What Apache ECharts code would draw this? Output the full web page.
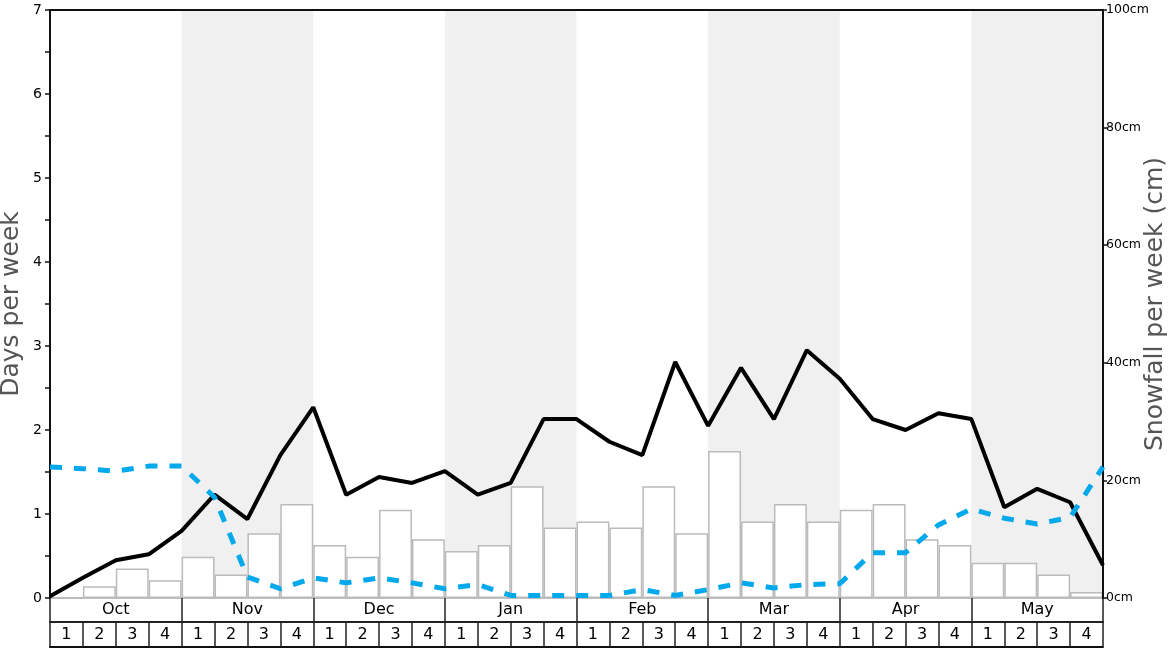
<!DOCTYPE html>
<html>
<head>
<meta charset="utf-8">
<title>Snow weeks</title>
<script src="https://cdn.jsdelivr.net/npm/echarts@6/dist/echarts.min.js"></script>
<style>
  html, body { margin: 0; padding: 0; background: #fff; }
  #chart { width: 1168px; height: 648px; }
</style>
</head>
<body>
<div id="chart"></div>
<script>
// months along the bottom, 4 weeks each
var months = ['Oct', 'Nov', 'Dec', 'Jan', 'Feb', 'Mar', 'Apr', 'May'];
var weeks = ['1','2','3','4', '1','2','3','4', '1','2','3','4', '1','2','3','4',
             '1','2','3','4', '1','2','3','4', '1','2','3','4', '1','2','3','4'];

// snowfall per week (cm), one bar per week
var snowfall = [0, 2, 5, 3,  7, 4, 11, 16,  9, 7, 15, 10,  8, 9, 19, 12,
                13, 12, 19, 11,  25, 13, 16, 13,  15, 16, 10, 9,  6, 6, 4, 1];

// days per week, read at each week boundary (33 points)
var snowDays = [0.02, 0.24, 0.45, 0.52, 0.80, 1.23, 0.94, 1.70, 2.27,
                1.23, 1.44, 1.37, 1.51, 1.23, 1.37, 2.13, 2.13,
                1.86, 1.70, 2.81, 2.05, 2.74, 2.13, 2.95, 2.61,
                2.13, 2.00, 2.20, 2.13, 1.08, 1.30, 1.14, 0.39];
var otherDays = [1.56, 1.54, 1.51, 1.57, 1.57, 1.20, 0.25, 0.11, 0.24,
                 0.18, 0.24, 0.18, 0.11, 0.16, 0.03, 0.03, 0.03,
                 0.03, 0.10, 0.03, 0.10, 0.18, 0.12, 0.16, 0.17,
                 0.54, 0.54, 0.87, 1.06, 0.95, 0.88, 0.96, 1.56];

var edges = [];
for (var i = 0; i < snowDays.length; i++) {
  edges.push(i);
}

var font = 'DejaVu Sans';

var option = {
  animation: false,
  textStyle: { fontFamily: font },
  grid: { left: 50, right: 65, top: 10, bottom: 50, containLabel: false, outerBoundsMode: 'none' },
  xAxis: [
    {
      // month row + shaded month bands
      type: 'category',
      data: months,
      position: 'bottom',
      boundaryGap: true,
      axisLine: { onZero: false, lineStyle: { color: '#aaa', width: 1.5 } },
      axisTick: { show: true, length: 24, lineStyle: { color: '#222', width: 1.5 } },
      axisLabel: { fontSize: 16, color: '#000', margin: 4 },
      splitLine: { show: false },
      splitArea: { show: true, areaStyle: { color: ['rgba(255,255,255,0)', '#f0f0f0'] } },
      z: 0
    },
    {
      // week row
      type: 'category',
      data: weeks,
      position: 'bottom',
      offset: 24,
      boundaryGap: true,
      axisLine: { onZero: false, lineStyle: { color: '#222', width: 2 } },
      axisTick: { show: true, length: 25, lineStyle: { color: '#222', width: 1.5 } },
      axisLabel: { fontSize: 16, color: '#000', margin: 5 },
      splitLine: { show: false },
      z: 3
    },
    {
      // bottom edge of the week row
      type: 'category',
      data: weeks,
      position: 'bottom',
      offset: 49,
      axisLine: { onZero: false, lineStyle: { color: '#111', width: 2 } },
      axisTick: { show: false },
      axisLabel: { show: false },
      splitLine: { show: false }
    },
    {
      // top border
      type: 'category',
      data: weeks,
      position: 'top',
      axisLine: { onZero: false, lineStyle: { color: '#111', width: 2 } },
      axisTick: { show: false },
      axisLabel: { show: false },
      splitLine: { show: false }
    },
    {
      // week boundaries for the lines
      type: 'category',
      data: edges,
      boundaryGap: false,
      show: false
    }
  ],
  yAxis: [
    {
      type: 'value',
      position: 'left',
      min: 0,
      max: 7,
      interval: 1,
      name: 'Days per week',
      nameLocation: 'middle',
      nameGap: 26,
      nameRotate: 90,
      nameMoveOverlap: false,
      nameTextStyle: { fontSize: 25, color: '#555' },
      axisLine: { show: true, onZero: false, lineStyle: { color: '#111', width: 2 } },
      axisTick: { show: true, length: 5, lineStyle: { color: '#111', width: 1.5 } },
      minorTick: { show: true, splitNumber: 2, length: 5, lineStyle: { color: '#111', width: 1.5 } },
      axisLabel: { fontSize: 14, color: '#000', margin: 8 },
      splitLine: { show: false },
      z: 4
    },
    {
      type: 'value',
      position: 'right',
      min: 0,
      max: 100,
      interval: 20,
      name: 'Snowfall per week (cm)',
      nameLocation: 'middle',
      nameGap: 40,
      nameRotate: 90,
      nameMoveOverlap: false,
      nameTextStyle: { fontSize: 25, color: '#555' },
      axisLine: { show: true, onZero: false, lineStyle: { color: '#111', width: 2 } },
      axisTick: { show: true, length: 4, lineStyle: { color: '#111', width: 1.5 } },
      axisLabel: { fontSize: 12.5, color: '#000', margin: 3, formatter: '{value}cm' },
      splitLine: { show: false },
      z: 4
    }
  ],
  series: [
    {
      name: 'Snowfall',
      type: 'bar',
      xAxisIndex: 1,
      yAxisIndex: 1,
      data: snowfall,
      barWidth: '100%',
      barCategoryGap: 0,
      itemStyle: { color: '#fff', borderColor: '#bbb', borderWidth: 1.5 },
      z: 2
    },
    {
      name: 'Snow days',
      type: 'line',
      xAxisIndex: 4,
      yAxisIndex: 0,
      data: snowDays,
      symbol: 'none',
      lineStyle: { color: '#000', width: 4 },
      z: 5
    },
    {
      name: 'Other days',
      type: 'line',
      xAxisIndex: 4,
      yAxisIndex: 0,
      data: otherDays,
      symbol: 'none',
      lineStyle: { color: '#00a8ec', width: 5, type: [12, 12] },
      z: 6
    }
  ]
};

var chart = echarts.init(document.getElementById('chart'));
chart.setOption(option);
</script>
</body>
</html>
